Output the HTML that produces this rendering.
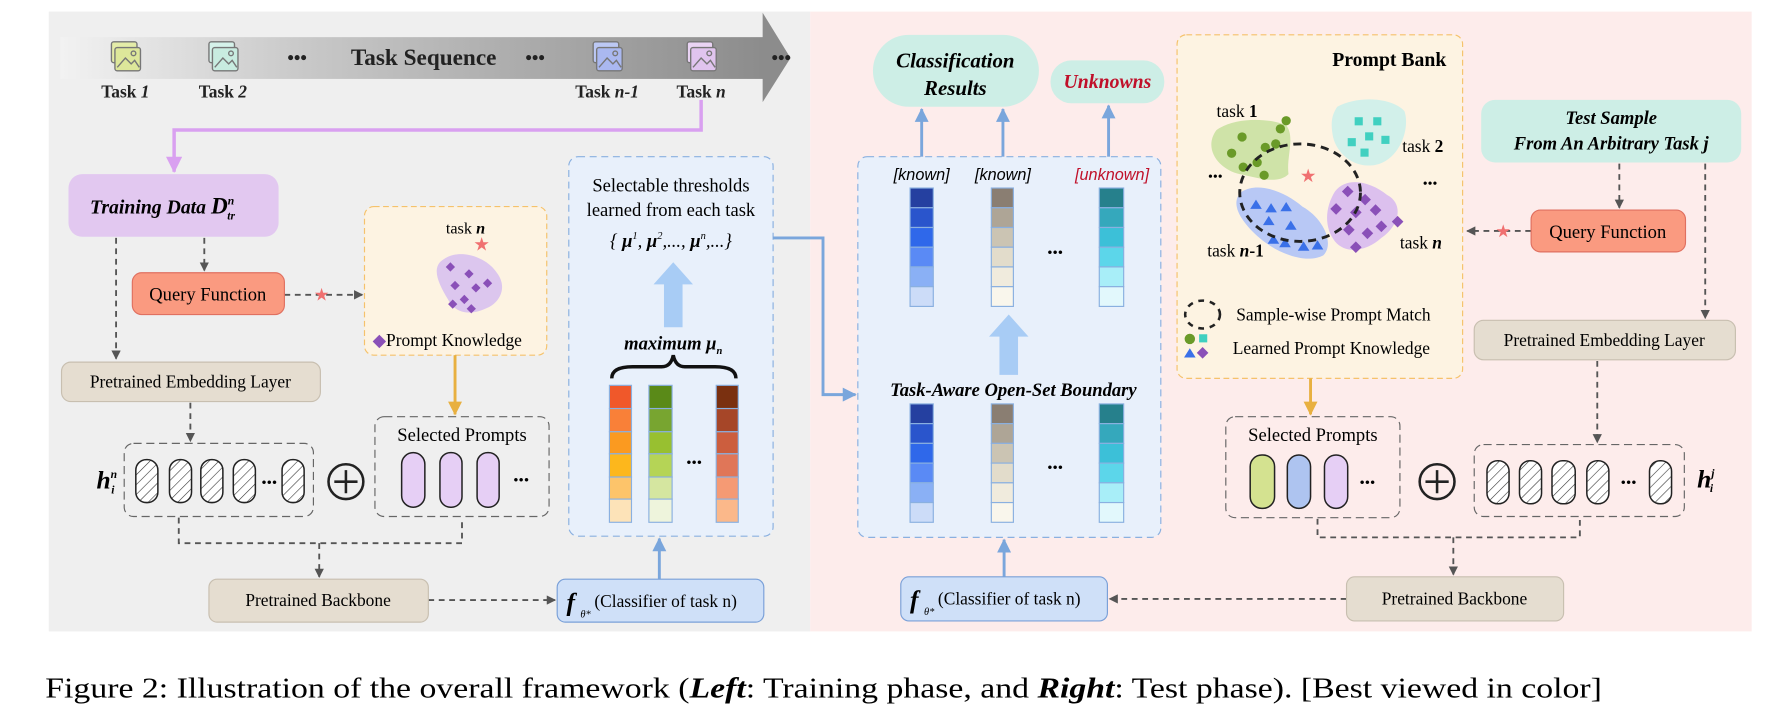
<!DOCTYPE html>
<html><head><meta charset="utf-8"><style>html,body{margin:0;padding:0;background:#fff}svg{display:block}text{font-family:"Liberation Serif",serif}</style></head><body>
<svg width="1783" height="708" viewBox="0 0 1536 610" preserveAspectRatio="none" xmlns="http://www.w3.org/2000/svg">
<defs>
<linearGradient id="band" x1="0" x2="1" y1="0" y2="0"><stop offset="0" stop-color="#f2f2f2"/><stop offset="0.35" stop-color="#c8c8c8"/><stop offset="1" stop-color="#8c8c8c"/></linearGradient>
<pattern id="hatch" width="6" height="6" patternUnits="userSpaceOnUse" patternTransform="rotate(45)"><rect width="6" height="6" fill="#fff"/><line x1="0" y1="0" x2="0" y2="6" stroke="#333" stroke-width="1"/></pattern>
<marker id="ag" markerWidth="8" markerHeight="8" refX="7" refY="4" orient="auto" markerUnits="userSpaceOnUse"><path d="M0,0 L8,4 L0,8 z" fill="#555"/></marker>
<marker id="ab" markerWidth="12" markerHeight="12" refX="11" refY="6" orient="auto" markerUnits="userSpaceOnUse"><path d="M0,0 L12,6 L0,12 z" fill="#7aa6dc"/></marker>
<marker id="ao" markerWidth="12" markerHeight="12" refX="11" refY="6" orient="auto" markerUnits="userSpaceOnUse"><path d="M0,0 L12,6 L0,12 z" fill="#e8b040"/></marker>
<marker id="ap" markerWidth="14" markerHeight="14" refX="13" refY="7" orient="auto" markerUnits="userSpaceOnUse"><path d="M0,0 L14,7 L0,14 z" fill="#d9a0f0"/></marker>
</defs>
<rect x="42" y="10" width="656" height="534" fill="#efefef"/>
<rect x="698" y="10" width="811" height="534" fill="#fdeceb"/>

<rect x="52" y="32" width="606" height="36" fill="url(#band)"/>
<polygon points="657,11 681,50 657,88" fill="#8c8c8c"/>
<g stroke="#777" stroke-width="1.2">
<g transform="translate(96,36)"><rect x="0" y="0" width="22" height="18" fill="#e4eca8" rx="2"/><rect x="3" y="5" width="22" height="20" fill="#dde79a" rx="2"/><path d="M5,22 L12,14 L17,19 L20,16 L24,22" fill="none"/><circle cx="19" cy="10" r="2" fill="none"/></g>
<g transform="translate(180,36)"><rect x="0" y="0" width="22" height="18" fill="#d5f2ea" rx="2"/><rect x="3" y="5" width="22" height="20" fill="#c8ece0" rx="2"/><path d="M5,22 L12,14 L17,19 L20,16 L24,22" fill="none"/><circle cx="19" cy="10" r="2" fill="none"/></g>
<g transform="translate(511,36)"><rect x="0" y="0" width="22" height="18" fill="#bcc8f4" rx="2"/><rect x="3" y="5" width="22" height="20" fill="#aab8f0" rx="2"/><path d="M5,22 L12,14 L17,19 L20,16 L24,22" fill="none"/><circle cx="19" cy="10" r="2" fill="none"/></g>
<g transform="translate(592,36)"><rect x="0" y="0" width="22" height="18" fill="#ead4f4" rx="2"/><rect x="3" y="5" width="22" height="20" fill="#e0c4ee" rx="2"/><path d="M5,22 L12,14 L17,19 L20,16 L24,22" fill="none"/><circle cx="19" cy="10" r="2" fill="none"/></g>
</g>
<g font-size="15" font-weight="bold" fill="#222" text-anchor="middle">
<text x="108" y="84">Task <tspan font-style="italic">1</tspan></text>
<text x="192" y="84">Task <tspan font-style="italic">2</tspan></text>
<text x="523" y="84">Task <tspan font-style="italic">n-1</tspan></text>
<text x="604" y="84">Task <tspan font-style="italic">n</tspan></text>
<text x="365" y="56" font-size="20">Task Sequence</text>
<text x="256" y="55" font-size="16">•••</text>
<text x="461" y="55" font-size="16">•••</text>
<text x="673" y="55" font-size="16">•••</text>
</g>
<polyline points="604,86 604,112 150,112 150,148" fill="none" stroke="#d9a0f0" stroke-width="3" marker-end="url(#ap)"/>

<rect x="59" y="150" width="181" height="54" rx="12" fill="#e2c8f0"/>
<text x="140" y="184" font-size="17" font-weight="bold" font-style="italic" text-anchor="middle">Training Data  <tspan font-size="20">D</tspan><tspan font-size="10" dy="-8">n</tspan><tspan font-size="10" dx="-6" dy="13">tr</tspan></text>
<g stroke="#555" stroke-width="1.6" stroke-dasharray="5,4" fill="none">
<line x1="100" y1="205" x2="100" y2="309" marker-end="url(#ag)"/>
<line x1="176" y1="205" x2="176" y2="233" marker-end="url(#ag)"/>
<line x1="245" y1="254" x2="312" y2="254" marker-end="url(#ag)"/>
<line x1="164" y1="347" x2="164" y2="380" marker-end="url(#ag)"/>
<polyline points="154,446 154,468 398,468 398,446"/>
<line x1="275" y1="468" x2="275" y2="497" marker-end="url(#ag)"/>
<line x1="369" y1="517" x2="478" y2="517" marker-end="url(#ag)"/>
</g>
<text x="277" y="259" font-size="15" fill="#f07070" text-anchor="middle">★</text>
<rect x="114" y="235" width="131" height="36" rx="8" fill="#fa9a80" stroke="#e07060"/>
<text x="179" y="259" font-size="16" text-anchor="middle">Query Function</text>
<rect x="314" y="178" width="157" height="128" rx="8" fill="#fdf3e2" stroke="#f5c26b" stroke-dasharray="5,3"/>
<text x="401" y="201" font-size="14" text-anchor="middle">task <tspan font-weight="bold" font-style="italic">n</tspan></text>
<text x="415" y="216" font-size="16" fill="#f07070" text-anchor="middle">★</text>
<path d="M380,225 C395,212 420,222 428,235 C438,248 430,262 418,266 C405,272 392,270 386,258 C378,245 372,232 380,225z" fill="#dcc6ee"/>
<g fill="#8a50b8"><path d="M388,226 l4,4 -4,4 -4,-4z"/><path d="M404,232 l4,4 -4,4 -4,-4z"/><path d="M420,240 l4,4 -4,4 -4,-4z"/><path d="M392,242 l4,4 -4,4 -4,-4z"/><path d="M410,244 l4,4 -4,4 -4,-4z"/><path d="M400,254 l4,4 -4,4 -4,-4z"/><path d="M390,258 l4,4 -4,4 -4,-4z"/><path d="M406,262 l4,4 -4,4 -4,-4z"/></g>
<text x="321" y="298" font-size="15"><tspan fill="#8a50b8">◆</tspan>Prompt Knowledge</text>
<line x1="392" y1="306" x2="392" y2="357" stroke="#e8b040" stroke-width="2.5" marker-end="url(#ao)"/>
<rect x="53" y="312" width="223" height="34" rx="8" fill="#e5ddd0" stroke="#c8bfb0"/>
<text x="164" y="334" font-size="15" text-anchor="middle">Pretrained Embedding Layer</text>
<rect x="107" y="382" width="163" height="63" rx="8" fill="none" stroke="#666" stroke-dasharray="7,4"/>
<g stroke="#222" stroke-width="1.3" fill="url(#hatch)">
<rect x="117" y="396" width="19" height="37" rx="9"/><rect x="146" y="396" width="19" height="37" rx="9"/><rect x="173" y="396" width="19" height="37" rx="9"/><rect x="201" y="396" width="19" height="37" rx="9"/><rect x="243" y="396" width="19" height="37" rx="9"/>
</g>
<text x="232" y="420" font-size="13" text-anchor="middle">•••</text>
<text x="92" y="421" font-size="22" font-weight="bold" font-style="italic" text-anchor="middle">h<tspan font-size="10" dy="-9">n</tspan><tspan font-size="10" dx="-5" dy="13">i</tspan></text>
<circle cx="298" cy="415" r="15" fill="none" stroke="#222" stroke-width="2.2"/>
<path d="M288,415 H308 M298,405 V425" stroke="#222" stroke-width="2.2"/>
<rect x="323" y="359" width="150" height="86" rx="8" fill="none" stroke="#666" stroke-dasharray="7,4"/>
<text x="398" y="380" font-size="16" text-anchor="middle">Selected Prompts</text>
<g fill="#e6cff5" stroke="#222" stroke-width="1.3"><rect x="346" y="390" width="20" height="47" rx="10"/><rect x="379" y="390" width="19" height="47" rx="9"/><rect x="411" y="390" width="19" height="47" rx="9"/></g>
<text x="449" y="418" font-size="13" text-anchor="middle">•••</text>
<rect x="180" y="499" width="189" height="37" rx="7" fill="#e5ddd0" stroke="#c8bfb0"/>
<text x="274" y="522" font-size="15" text-anchor="middle">Pretrained Backbone</text>
<rect x="480" y="499" width="178" height="37" rx="7" fill="#cfe0f8" stroke="#7aa0d8"/>
<text x="488" y="526" font-size="22" font-weight="bold" font-style="italic">f</text>
<text x="500" y="532" font-size="9" font-style="italic">θ*</text>
<text x="512" y="523" font-size="15">(Classifier of task n)</text>
<line x1="568" y1="499" x2="568" y2="464" stroke="#7aa6dc" stroke-width="2.5" marker-end="url(#ab)"/>

<rect x="490" y="135" width="176" height="327" rx="8" fill="#e8f0fb" stroke="#8ab0e0" stroke-dasharray="6,4"/>
<text x="578" y="165" font-size="16" text-anchor="middle">Selectable thresholds</text>
<text x="578" y="186" font-size="16" text-anchor="middle">learned from each task</text>
<text x="578" y="213" font-size="16" font-style="italic" text-anchor="middle">{ <tspan font-weight="bold">μ</tspan><tspan font-size="9" dy="-7">1</tspan><tspan dy="7">, </tspan><tspan font-weight="bold">μ</tspan><tspan font-size="9" dy="-7">2</tspan><tspan dy="7">,..., </tspan><tspan font-weight="bold">μ</tspan><tspan font-size="9" dy="-7">n</tspan><tspan dy="7">,...}</tspan></text>
<polygon points="572,282 588,282 588,245 597,245 580,226 563,245 572,245" fill="#a8ccf5"/>
<text x="580" y="301" font-size="16" font-weight="bold" font-style="italic" text-anchor="middle">maximum  μ<tspan font-size="9" dy="4">n</tspan></text>
<path d="M527,326 Q527,316 545,316 L570,316 Q578,316 580,306 Q582,316 590,316 L616,316 Q634,316 634,326" fill="none" stroke="#111" stroke-width="3"/>
<g stroke="#8ab0e0" stroke-width="1">
<g><rect x="525" y="332" width="19" height="20" fill="#f0582a"/><rect x="525" y="352" width="19" height="20" fill="#f98038"/><rect x="525" y="372" width="19" height="19" fill="#fb9a20"/><rect x="525" y="391" width="19" height="20" fill="#fdb71c"/><rect x="525" y="411" width="19" height="19" fill="#fdc46a"/><rect x="525" y="430" width="19" height="20" fill="#fde3b8"/></g>
<g><rect x="559" y="332" width="20" height="20" fill="#5a8a18"/><rect x="559" y="352" width="20" height="20" fill="#78a530"/><rect x="559" y="372" width="20" height="19" fill="#98c030"/><rect x="559" y="391" width="20" height="20" fill="#b5d456"/><rect x="559" y="411" width="20" height="19" fill="#d5e6a0"/><rect x="559" y="430" width="20" height="20" fill="#eef4dc"/></g>
<g><rect x="617" y="332" width="19" height="20" fill="#7a3010"/><rect x="617" y="352" width="19" height="20" fill="#a64628"/><rect x="617" y="372" width="19" height="19" fill="#cc5e3e"/><rect x="617" y="391" width="19" height="20" fill="#e07658"/><rect x="617" y="411" width="19" height="19" fill="#f59a74"/><rect x="617" y="430" width="19" height="20" fill="#fbb88a"/></g>
</g>
<text x="598" y="403" font-size="13" text-anchor="middle">•••</text>
<polyline points="666,205 709,205 709,340 737,340" fill="none" stroke="#7aa6dc" stroke-width="2.5" marker-end="url(#ab)"/>

<rect x="739" y="135" width="261" height="328" rx="8" fill="#e8f0fb" stroke="#8ab0e0" stroke-dasharray="6,4"/>
<g font-size="14" font-style="italic" text-anchor="middle">
<text x="794" y="155" style="font-family:'Liberation Sans',sans-serif">[known]</text>
<text x="864" y="155" style="font-family:'Liberation Sans',sans-serif">[known]</text>
<text x="958" y="155" fill="#c0102a" style="font-family:'Liberation Sans',sans-serif">[unknown]</text>
</g>
<g stroke="#8ab0e0" stroke-width="1">
<g><rect x="784" y="162" width="20" height="17" fill="#2540a0"/><rect x="784" y="179" width="20" height="17" fill="#2a55cc"/><rect x="784" y="196" width="20" height="17" fill="#2f68ea"/><rect x="784" y="213" width="20" height="17" fill="#5a8af5"/><rect x="784" y="230" width="20" height="17" fill="#8ab0f5"/><rect x="784" y="247" width="20" height="17" fill="#ccdcf8"/></g>
<g><rect x="854" y="162" width="19" height="17" fill="#8a7e72"/><rect x="854" y="179" width="19" height="17" fill="#aea596"/><rect x="854" y="196" width="19" height="17" fill="#cbc4b3"/><rect x="854" y="213" width="19" height="17" fill="#e2dccb"/><rect x="854" y="230" width="19" height="17" fill="#f0ebdd"/><rect x="854" y="247" width="19" height="17" fill="#f9f6ec"/></g>
<g><rect x="947" y="162" width="21" height="17" fill="#26808c"/><rect x="947" y="179" width="21" height="17" fill="#35a8bc"/><rect x="947" y="196" width="21" height="17" fill="#3cc0d8"/><rect x="947" y="213" width="21" height="17" fill="#5cd6ea"/><rect x="947" y="230" width="21" height="17" fill="#a8eef8"/><rect x="947" y="247" width="21" height="17" fill="#e2f8fc"/></g>
<g><rect x="784" y="348" width="20" height="17" fill="#2540a0"/><rect x="784" y="365" width="20" height="17" fill="#2a55cc"/><rect x="784" y="382" width="20" height="17" fill="#2f68ea"/><rect x="784" y="399" width="20" height="17" fill="#5a8af5"/><rect x="784" y="416" width="20" height="17" fill="#8ab0f5"/><rect x="784" y="433" width="20" height="17" fill="#ccdcf8"/></g>
<g><rect x="854" y="348" width="19" height="17" fill="#8a7e72"/><rect x="854" y="365" width="19" height="17" fill="#aea596"/><rect x="854" y="382" width="19" height="17" fill="#cbc4b3"/><rect x="854" y="399" width="19" height="17" fill="#e2dccb"/><rect x="854" y="416" width="19" height="17" fill="#f0ebdd"/><rect x="854" y="433" width="19" height="17" fill="#f9f6ec"/></g>
<g><rect x="947" y="348" width="21" height="17" fill="#26808c"/><rect x="947" y="365" width="21" height="17" fill="#35a8bc"/><rect x="947" y="382" width="21" height="17" fill="#3cc0d8"/><rect x="947" y="399" width="21" height="17" fill="#5cd6ea"/><rect x="947" y="416" width="21" height="17" fill="#a8eef8"/><rect x="947" y="433" width="21" height="17" fill="#e2f8fc"/></g>
</g>
<text x="909" y="222" font-size="13" text-anchor="middle">•••</text>
<text x="909" y="407" font-size="13" text-anchor="middle">•••</text>
<polygon points="861,323 877,323 877,290 886,290 869,271 852,290 861,290" fill="#a8ccf5"/>
<text x="873" y="341" font-size="16" font-weight="bold" font-style="italic" text-anchor="middle">Task-Aware Open-Set Boundary</text>
<g stroke="#7aa6dc" stroke-width="2.5">
<line x1="794" y1="135" x2="794" y2="94" marker-end="url(#ab)"/>
<line x1="864" y1="135" x2="864" y2="94" marker-end="url(#ab)"/>
<line x1="955" y1="135" x2="955" y2="91" marker-end="url(#ab)"/>
<line x1="865" y1="497" x2="865" y2="465" marker-end="url(#ab)"/>
</g>
<rect x="752" y="30" width="143" height="62" rx="31" fill="#cdeee6"/>
<text x="823" y="58" font-size="18" font-weight="bold" font-style="italic" text-anchor="middle">Classification</text>
<text x="823" y="82" font-size="18" font-weight="bold" font-style="italic" text-anchor="middle">Results</text>
<rect x="905" y="52" width="98" height="37" rx="18" fill="#cdeee6"/>
<text x="954" y="76" font-size="17" font-weight="bold" font-style="italic" fill="#c0102a" text-anchor="middle">Unknowns</text>

<rect x="1014" y="30" width="246" height="296" rx="8" fill="#fdf3e2" stroke="#f5c26b" stroke-dasharray="5,3"/>
<text x="1246" y="57" font-size="17" font-weight="bold" text-anchor="end">Prompt Bank</text>
<text x="1048" y="101" font-size="15">task <tspan font-weight="bold">1</tspan></text>
<text x="1208" y="131" font-size="15">task <tspan font-weight="bold">2</tspan></text>
<text x="1040" y="221" font-size="15">task <tspan font-weight="bold" font-style="italic">n</tspan><tspan font-weight="bold">-1</tspan></text>
<text x="1206" y="214" font-size="15">task <tspan font-weight="bold" font-style="italic">n</tspan></text>
<text x="1047" y="156" font-size="12" text-anchor="middle">•••</text>
<text x="1232" y="162" font-size="12" text-anchor="middle">•••</text>
<path d="M1048,112 C1065,100 1095,102 1108,108 C1116,118 1108,135 1110,150 C1100,160 1080,152 1068,150 C1050,146 1036,128 1048,112z" fill="#cfe3a8"/>
<path d="M1152,92 C1170,82 1200,84 1210,96 C1215,112 1205,138 1185,142 C1165,146 1150,130 1148,116 C1146,104 1148,98 1152,92z" fill="#d2f0ea"/>
<path d="M1070,165 C1085,156 1108,166 1122,178 C1140,188 1150,210 1140,220 C1125,228 1100,218 1085,205 C1070,192 1058,175 1070,165z" fill="#b8c8f5"/>
<path d="M1150,165 C1160,152 1180,156 1195,168 C1210,176 1205,195 1190,205 C1178,216 1160,220 1150,208 C1140,195 1142,178 1150,165z" fill="#dcc0ee"/>
<g fill="#6a9a28"><circle cx="1070" cy="118" r="4"/><circle cx="1090" cy="127" r="4"/><circle cx="1103" cy="111" r="4"/><circle cx="1061" cy="132" r="4"/><circle cx="1083" cy="140" r="4"/><circle cx="1099" cy="124" r="4"/><circle cx="1071" cy="144" r="4"/><circle cx="1089" cy="151" r="4"/><circle cx="1108" cy="104" r="4"/></g>
<g fill="#40d0c0"><rect x="1167" y="101" width="7" height="7"/><rect x="1183" y="101" width="7" height="7"/><rect x="1161" y="119" width="7" height="7"/><rect x="1176" y="114" width="7" height="7"/><rect x="1190" y="117" width="7" height="7"/><rect x="1172" y="128" width="7" height="7"/></g>
<g fill="#3a70e8"><path d="M1082,172 l5,8 h-10z"/><path d="M1095,175 l5,8 h-10z"/><path d="M1108,174 l5,8 h-10z"/><path d="M1093,186 l5,8 h-10z"/><path d="M1112,190 l5,8 h-10z"/><path d="M1107,205 l5,8 h-10z"/><path d="M1123,208 l5,8 h-10z"/><path d="M1135,207 l5,8 h-10z"/><path d="M1097,202 l5,8 h-10z"/></g>
<g fill="#8a50b8"><path d="M1161,160 l5,5 -5,5 -5,-5z"/><path d="M1151,175 l5,5 -5,5 -5,-5z"/><path d="M1168,178 l5,5 -5,5 -5,-5z"/><path d="M1185,176 l5,5 -5,5 -5,-5z"/><path d="M1190,190 l5,5 -5,5 -5,-5z"/><path d="M1178,196 l5,5 -5,5 -5,-5z"/><path d="M1162,193 l5,5 -5,5 -5,-5z"/><path d="M1168,208 l5,5 -5,5 -5,-5z"/><path d="M1176,167 l5,5 -5,5 -5,-5z"/><path d="M1204,186 l5,5 -5,5 -5,-5z"/></g>
<ellipse cx="1120" cy="166" rx="52" ry="42" fill="none" stroke="#222" stroke-width="2.5" stroke-dasharray="7,5"/>
<text x="1127" y="157" font-size="16" fill="#f07070" text-anchor="middle">★</text>
<ellipse cx="1036" cy="271" rx="15" ry="12" fill="none" stroke="#222" stroke-width="2.2" stroke-dasharray="5,5"/>
<text x="1065" y="276" font-size="15">Sample-wise Prompt Match</text>
<circle cx="1025" cy="292" r="4.5" fill="#6a9a28"/><rect x="1033" y="288" width="7" height="7" fill="#40d0c0"/>
<path d="M1025,300 l5,8 h-10z" fill="#3a70e8"/><path d="M1036,299 l5,5 -5,5 -5,-5z" fill="#8a50b8"/>
<text x="1062" y="305" font-size="15">Learned Prompt Knowledge</text>
<line x1="1129" y1="326" x2="1129" y2="357" stroke="#e8b040" stroke-width="2.5" marker-end="url(#ao)"/>

<rect x="1276" y="86" width="224" height="54" rx="12" fill="#cdeee6"/>
<text x="1388" y="107" font-size="16" font-weight="bold" font-style="italic" text-anchor="middle">Test Sample</text>
<text x="1388" y="129" font-size="16" font-weight="bold" font-style="italic" text-anchor="middle">From  An  Arbitrary Task j</text>
<g stroke="#555" stroke-width="1.6" stroke-dasharray="5,4" fill="none">
<line x1="1395" y1="141" x2="1395" y2="179" marker-end="url(#ag)"/>
<line x1="1469" y1="141" x2="1469" y2="274" marker-end="url(#ag)"/>
<line x1="1319" y1="199" x2="1264" y2="199" marker-end="url(#ag)"/>
<line x1="1376" y1="311" x2="1376" y2="381" marker-end="url(#ag)"/>
<polyline points="1135,447 1135,463 1361,463 1361,446"/>
<line x1="1252" y1="463" x2="1252" y2="495" marker-end="url(#ag)"/>
<line x1="1160" y1="516" x2="956" y2="516" marker-end="url(#ag)"/>
</g>
<text x="1295" y="204" font-size="15" fill="#f07070" text-anchor="middle">★</text>
<rect x="1319" y="181" width="133" height="36" rx="8" fill="#fa9a80" stroke="#e07060"/>
<text x="1385" y="205" font-size="16" text-anchor="middle">Query Function</text>
<rect x="1270" y="276" width="225" height="34" rx="8" fill="#e5ddd0" stroke="#c8bfb0"/>
<text x="1382" y="298" font-size="15" text-anchor="middle">Pretrained Embedding Layer</text>
<rect x="1056" y="359" width="150" height="87" rx="8" fill="none" stroke="#666" stroke-dasharray="7,4"/>
<text x="1131" y="380" font-size="16" text-anchor="middle">Selected Prompts</text>
<g stroke="#222" stroke-width="1.3"><rect x="1077" y="392" width="21" height="46" rx="10" fill="#d4e290"/><rect x="1109" y="392" width="20" height="46" rx="10" fill="#aec4f0"/><rect x="1141" y="392" width="20" height="46" rx="10" fill="#e6cff5"/></g>
<text x="1178" y="420" font-size="13" text-anchor="middle">•••</text>
<circle cx="1238" cy="415" r="15" fill="none" stroke="#222" stroke-width="2.2"/>
<path d="M1228,415 H1248 M1238,405 V425" stroke="#222" stroke-width="2.2"/>
<rect x="1270" y="383" width="181" height="62" rx="8" fill="none" stroke="#666" stroke-dasharray="7,4"/>
<g stroke="#222" stroke-width="1.3" fill="url(#hatch)">
<rect x="1281" y="397" width="19" height="37" rx="9"/><rect x="1309" y="397" width="19" height="37" rx="9"/><rect x="1337" y="397" width="20" height="37" rx="9"/><rect x="1367" y="397" width="19" height="37" rx="9"/><rect x="1421" y="397" width="19" height="37" rx="9"/>
</g>
<text x="1403" y="420" font-size="13" text-anchor="middle">•••</text>
<text x="1462" y="420" font-size="22" font-weight="bold" font-style="italic">h<tspan font-size="10" dy="-9">j</tspan><tspan font-size="10" dx="-4" dy="13">i</tspan></text>
<rect x="1160" y="497" width="187" height="38" rx="7" fill="#e5ddd0" stroke="#c8bfb0"/>
<text x="1253" y="521" font-size="15" text-anchor="middle">Pretrained Backbone</text>
<rect x="776" y="497" width="178" height="38" rx="7" fill="#cfe0f8" stroke="#7aa0d8"/>
<text x="784" y="524" font-size="22" font-weight="bold" font-style="italic">f</text>
<text x="796" y="530" font-size="9" font-style="italic">θ*</text>
<text x="808" y="521" font-size="15">(Classifier of task n)</text>

<text x="39" y="601" font-size="25" textLength="1341" lengthAdjust="spacingAndGlyphs">Figure 2: Illustration of the overall framework (<tspan font-weight="bold" font-style="italic">Left</tspan>: Training phase, and <tspan font-weight="bold" font-style="italic">Right</tspan>: Test phase). [Best viewed in color]</text>
</svg>
</body></html>
